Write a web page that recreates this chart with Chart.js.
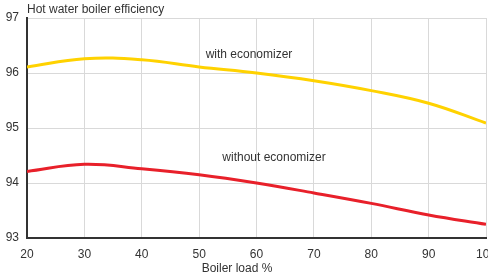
<!DOCTYPE html>
<html>
<head>
<meta charset="utf-8">
<script src="https://cdn.jsdelivr.net/npm/chart.js@4/dist/chart.umd.min.js"></script>
<style>
  html, body { margin: 0; padding: 0; background: #fff; }
  #chart { display: block; }
</style>
</head>
<body>
<canvas id="chart" width="488" height="277"></canvas>
<script>
// Data.
const loads = [20, 30, 40, 50, 60, 70, 80, 90, 100];
const withEconomizer = [96.11, 96.26, 96.24, 96.11, 96.0, 95.86, 95.68, 95.45, 95.09];
const withoutEconomizer = [94.21, 94.34, 94.26, 94.15, 94.0, 93.82, 93.63, 93.42, 93.25];
const seriesNames = ['with economizer', 'without economizer'];
const titleText = 'Hot water boiler efficiency';
const xTitleText = 'Boiler load %';

const fontFamily = '"Liberation Sans", Arial, Helvetica, sans-serif';
const textColor = '#333333';
const gridColor = '#d9d9d9';

const toPoints = (values) => values.map((v, i) => ({x: loads[i], y: v}));

// Texts that are not part of the axes.
const textPlugin = {
  id: 'texts',
  afterDraw(chart) {
    const ctx = chart.ctx;
    const area = chart.chartArea;
    ctx.save();
    ctx.fillStyle = textColor;
    ctx.font = '12px ' + fontFamily;
    ctx.textBaseline = 'middle';

    ctx.textAlign = 'left';
    ctx.fillText(titleText, area.left, 10);

    ctx.textAlign = 'center';
    ctx.fillText(xTitleText, 237, 269);

    // series labels
    ctx.fillText(seriesNames[0], 249, 55);
    ctx.fillText(seriesNames[1], 274, 158);
    ctx.restore();
  }
};

const config = {
  type: 'line',
  data: {
    datasets: [{
      label: seriesNames[0],
      data: toPoints(withEconomizer),
      borderColor: '#ffd200',
      borderWidth: 3,
      pointRadius: 0,
      tension: 0.4,
    },
    {
      label: seriesNames[1],
      data: toPoints(withoutEconomizer),
      borderColor: '#e8202a',
      borderWidth: 3,
      pointRadius: 0,
      tension: 0.4,
    }]
  },
  options: {
    responsive: false,
    animation: false,
    layout: {padding: {top: 18, right: 2, left: 0, bottom: 0}},
    plugins: {
      legend: {display: false},
      title: {display: false},
      tooltip: {enabled: false},
    },
    scales: {
      x: {
        type: 'linear',
        min: 20,
        max: 100,
        ticks: {
          stepSize: 10,
          color: textColor,
          font: {family: fontFamily, size: 12},
          padding: 9,
          maxRotation: 0,
        },
        grid: {color: gridColor, lineWidth: 1, drawTicks: false},
        border: {color: '#333333', width: 2},
        afterFit: (scale) => {
          scale.height = 39;
          scale.paddingLeft = 0;
          scale.paddingRight = 0;
        },
      },
      y: {
        min: 93,
        max: 97,
        ticks: {
          stepSize: 1,
          color: textColor,
          font: {family: fontFamily, size: 12},
          padding: 8,
        },
        grid: {color: gridColor, lineWidth: 1, drawTicks: false},
        border: {color: '#333333', width: 2},
        afterFit: (scale) => {
          scale.width = 27;
          scale.paddingTop = 0;
          scale.paddingBottom = 0;
        },
      }
    }
  },
  plugins: [textPlugin]
};

const chart = new Chart(document.getElementById('chart'), config);
</script>
</body>
</html>
